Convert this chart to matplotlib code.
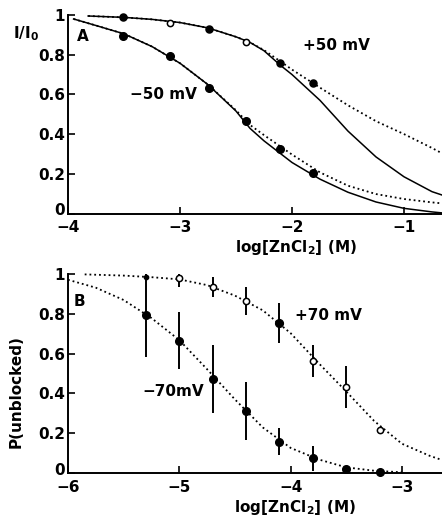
import matplotlib
matplotlib.use("Agg")
import matplotlib.pyplot as plt
import matplotlib.transforms as mtransforms

plt.rcParams['font.family'] = ['DejaVu Sans']
plt.rcParams['font.weight'] = 'bold'
plt.rcParams['mathtext.default'] = 'bf'

# ---------------- Panel A data ----------------
a_x = [-3.51, -3.09, -2.74, -2.41, -2.11, -1.81]
a_pos50 = [0.988, 0.958, 0.928, 0.862, 0.759, 0.655]
a_pos50_filled = [True, False, True, False, True, True]
a_neg50 = [0.896, 0.793, 0.633, 0.466, 0.327, 0.204]

# fitted curves
a_pos50_cx = [-3.82, -3.5, -3.25, -3.0, -2.75, -2.5, -2.375, -2.25, -2.1, -2.0, -1.75, -1.5, -1.25, -1.0, -0.75, -0.66]
a_pos50_solid = [0.995, 0.988, 0.978, 0.962, 0.935, 0.89, 0.862, 0.82, 0.745, 0.70, 0.57, 0.415, 0.285, 0.185, 0.11, 0.093]
a_pos50_dot = [0.995, 0.988, 0.978, 0.962, 0.935, 0.89, 0.862, 0.823, 0.765, 0.725, 0.634, 0.545, 0.465, 0.40, 0.33, 0.303]

a_neg50_cx = [-3.95, -3.75, -3.5, -3.25, -3.0, -2.75, -2.5, -2.375, -2.25, -2.0, -1.75, -1.5, -1.25, -1.0, -0.75, -0.66]
a_neg50_solid = [0.98, 0.947, 0.905, 0.841, 0.757, 0.649, 0.516, 0.429, 0.366, 0.257, 0.173, 0.107, 0.058, 0.026, 0.008, 0.003]
a_neg50_dot = [0.98, 0.947, 0.905, 0.841, 0.757, 0.649, 0.52, 0.446, 0.395, 0.297, 0.207, 0.14, 0.098, 0.073, 0.056, 0.051]

a_xticks = [-4, -3, -2, -1]
a_xticklabels = ['\u22124', '\u22123', '\u22122', '\u22121']
yticks = [0, 0.2, 0.4, 0.6, 0.8, 1]
yticklabels = ['0', '0.2', '0.4', '0.6', '0.8', '1']

# ---------------- Panel B data ----------------
b_x = [-5.3, -5.0, -4.7, -4.4, -4.1, -3.8, -3.5, -3.2]
b_pos70 = [0.987, 0.979, 0.937, 0.865, 0.753, 0.563, 0.433, 0.215]
b_pos70_err = [0.0, 0.045, 0.05, 0.07, 0.10, 0.082, 0.105, 0.0]
b_pos70_filled = [True, False, False, False, True, False, False, False]
b_neg70 = [0.794, 0.665, 0.471, 0.312, 0.156, 0.072, 0.019, 0.002]
b_neg70_err = [0.21, 0.145, 0.17, 0.145, 0.067, 0.065, 0.012, 0.0]

b_pos70_cx = [-5.85, -5.5, -5.25, -5.0, -4.75, -4.5, -4.25, -4.0, -3.75, -3.5, -3.25, -3.0, -2.75, -2.64]
b_pos70_cy = [0.999, 0.993, 0.985, 0.974, 0.945, 0.892, 0.818, 0.703, 0.553, 0.409, 0.261, 0.146, 0.085, 0.064]
b_neg70_cx = [-6.0, -5.75, -5.5, -5.25, -5.0, -4.75, -4.5, -4.25, -4.0, -3.75, -3.5, -3.25, -3.0]
b_neg70_cy = [0.972, 0.932, 0.87, 0.779, 0.668, 0.521, 0.369, 0.228, 0.125, 0.067, 0.027, 0.01, 0.002]

b_xticks = [-6, -5, -4, -3]
b_xticklabels = ['\u22126', '\u22125', '\u22124', '\u22123']

W, H = 442, 518
fig = plt.figure(figsize=(W / 100, H / 100), dpi=100)

def px_axes(left, bottom_py, width, height):
    return fig.add_axes([left / W, (H - bottom_py) / H, width / W, height / H])

axA = px_axes(68, 213.5, 374, 198.5)
axB = px_axes(68, 472.7, 374, 198.5)

FS = 11

def style(ax, xlim, xticks, xticklabels):
    ax.set_xlim(*xlim)
    ax.set_ylim(0, 1.0)
    for s in ['top', 'right']:
        ax.spines[s].set_visible(False)
    for s in ['left', 'bottom']:
        ax.spines[s].set_linewidth(1.4)
    ax.set_xticks(xticks)
    ax.set_xticklabels(xticklabels, fontsize=FS, fontweight='bold')
    ax.set_yticks(yticks)
    ax.set_yticklabels(yticklabels, fontsize=FS, fontweight='bold')
    ax.tick_params(axis='both', direction='in', length=5, width=1.2)
    ax.tick_params(axis='y', pad=2)
    ax.tick_params(axis='x', pad=5)
    # lift the "0" label a little so it does not collide with the first x label
    lab0 = ax.get_yticklabels()[0]
    lab0.set_transform(lab0.get_transform() +
                       mtransforms.ScaledTranslation(0, 3 / 72, fig.dpi_scale_trans))

style(axA, (-4, -4 + 374 / 112), a_xticks, a_xticklabels)
style(axB, (-6, -6 + 374 / 111.3), b_xticks, b_xticklabels)

# ---- Panel A ----
axA.plot(a_pos50_cx, a_pos50_solid, '-', color='black', lw=1.1, clip_on=False)
axA.plot(a_pos50_cx, a_pos50_dot, ':', color='black', lw=1.3, clip_on=False)
axA.plot(a_neg50_cx, a_neg50_solid, '-', color='black', lw=1.1, clip_on=False)
axA.plot(a_neg50_cx, a_neg50_dot, ':', color='black', lw=1.3, clip_on=False)
for x, y, f in zip(a_x, a_pos50, a_pos50_filled):
    axA.plot([x], [y], 'o', ms=5 if f else 4.5, mfc='black' if f else 'white',
             mec='black', mew=1.1, clip_on=False, zorder=4)
axA.plot(a_x, a_neg50, 'o', ms=5.5, mfc='black', mec='black', ls='none', zorder=4)

axA.text(-3.866, 0.894, 'A', fontsize=FS, fontweight='bold', ha='center', va='center')
axA.text(-1.607, 0.844, '+50 mV', fontsize=FS, fontweight='bold', ha='center', va='center')
axA.text(-3.152, 0.597, '\u221250 mV', fontsize=FS, fontweight='bold', ha='center', va='center')
axA.text(-0.147, 0.884, r'I/I$_0$', transform=axA.transAxes, fontsize=FS,
         fontweight='bold', ha='left', va='baseline')
axA.set_xlabel(r'log[ZnCl$_2$] (M)', fontsize=FS, fontweight='bold')
axA.xaxis.set_label_coords(0.61, -0.125)
axA.xaxis.label.set_va('top')

# ---- Panel B ----
axB.plot(b_pos70_cx, b_pos70_cy, ':', color='black', lw=1.3, clip_on=False)
axB.plot(b_neg70_cx, b_neg70_cy, ':', color='black', lw=1.3, clip_on=False)
axB.errorbar(b_x, b_neg70, yerr=b_neg70_err, fmt='none', ecolor='black', elinewidth=1.4, capsize=0)
axB.errorbar(b_x, b_pos70, yerr=b_pos70_err, fmt='none', ecolor='black', elinewidth=1.4, capsize=0)
axB.plot(b_x, b_neg70, 'o', ms=5.5, mfc='black', mec='black', ls='none', zorder=4, clip_on=False)
for i, (x, y, f) in enumerate(zip(b_x, b_pos70, b_pos70_filled)):
    ms = 3 if i == 0 else (5.5 if f else 4.5)
    axB.plot([x], [y], 'o', ms=ms, mfc='black' if f else 'white',
             mec='black', mew=1.1, clip_on=False, zorder=4)

axB.text(-5.90, 0.86, 'B', fontsize=FS, fontweight='bold', ha='center', va='center')
axB.text(-3.664, 0.794, '+70 mV', fontsize=FS, fontweight='bold', ha='center', va='center')
axB.text(-5.057, 0.409, '\u221270mV', fontsize=FS, fontweight='bold', ha='center', va='center')
axB.text(-0.139, 0.407, 'P(unblocked)', transform=axB.transAxes, rotation=90,
         fontsize=FS, fontweight='bold', ha='center', va='center')
axB.set_xlabel(r'log[ZnCl$_2$] (M)', fontsize=FS, fontweight='bold')
axB.xaxis.set_label_coords(0.607, -0.127)
axB.xaxis.label.set_va('top')

fig.savefig('out.png', dpi=100)
